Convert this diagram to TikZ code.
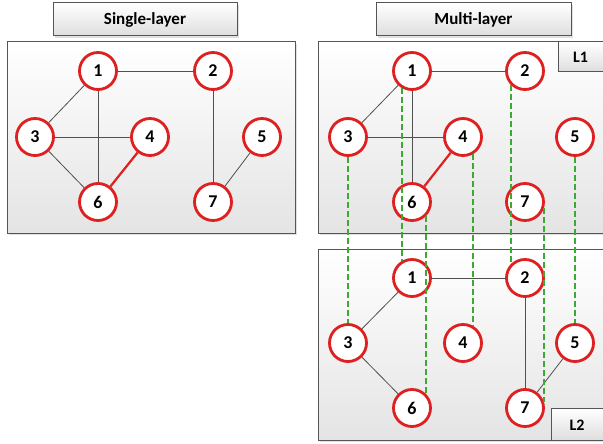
\documentclass[tikz,border=0pt]{standalone}
\usepackage{fontspec}
\setmainfont{Carlito}
\usetikzlibrary{calc}

\definecolor{nodered}{RGB}{222,32,32}
\definecolor{linkgray}{RGB}{80,80,80}
\definecolor{framegray}{RGB}{85,85,85}
\definecolor{panelgray}{RGB}{228,228,228}
\definecolor{titlegray}{RGB}{222,222,222}
\definecolor{dashgreen}{RGB}{60,170,50}

\begin{document}
\begin{tikzpicture}[x=1pt,y=-1pt,
  vertex/.style={circle, draw=nodered, line width=2.8pt, fill=white,
    minimum size=37pt, inner sep=0pt, font=\fontsize{18}{18}\selectfont\bfseries},
  link/.style={draw=linkgray, line width=0.8pt},
  hot/.style={draw=nodered, line width=2.2pt},
  cross/.style={draw=dashgreen, line width=1.5pt, dash pattern=on 6pt off 3pt},
  panel/.style={draw=framegray, line width=1pt, top color=white, bottom color=panelgray},
  shade/.style={fill=black, opacity=0.12, draw=none},
  title/.style={draw=framegray, line width=1pt, top color=white, bottom color=titlegray},
  titletext/.style={font=\fontsize{17}{17}\selectfont\bfseries},
  tag/.style={font=\fontsize{16}{16}\selectfont\bfseries},
]
\useasboundingbox (0,0) rectangle (603,444);
\clip (0,0) rectangle (603,444);

% --- titles ---
\fill[shade] (55,5) rectangle (239,38);
\path[title] (53,3) rectangle (237,36);
\node[titletext] (tsingle) at (145,19.5) {Single-layer};
\fill[shade] (378,5) rectangle (573,38);
\path[title] (376,3) rectangle (571,36);
\node[titletext] (tmulti) at (473.5,19.5) {Multi-layer};

% --- panels ---
\fill[shade] (9,44) rectangle (297,235);
\path[panel] (7,42) rectangle (295,233);
\fill[shade] (320,44) rectangle (622,235);
\path[panel] (318,42) rectangle (620,233);
\fill[shade] (320,251) rectangle (622,442);
\path[panel] (318,249) rectangle (620,440);

% layer tags
\path[title] (558,42) rectangle (620,72);
\node[tag] (l1) at (580.5,57.5) {L1};
\path[title] (551,408) rectangle (620,440);
\node[tag] (l2) at (577,425) {L2};

% --- single-layer graph ---
\node[vertex] (s1) at (98,71) {1};
\node[vertex] (s2) at (213,71) {2};
\node[vertex] (s3) at (35,137) {3};
\node[vertex] (s4) at (150,137) {4};
\node[vertex] (s5) at (262,137) {5};
\node[vertex] (s6) at (98,202) {6};
\node[vertex] (s7) at (213,202) {7};
\draw[link] (s1) -- (s2);
\draw[link] (s1) -- (s3);
\draw[link] (s1) -- (s6);
\draw[link] (s3) -- (s4);
\draw[link] (s3) -- (s6);
\draw[link] (s2) -- (s7);
\draw[link] (s5) -- (s7);
\draw[hot] (s4) -- (s6);

% --- layer L1 ---
\node[vertex] (a1) at (412,71) {1};
\node[vertex] (a2) at (525,71) {2};
\node[vertex] (a3) at (348,137) {3};
\node[vertex] (a4) at (463,137) {4};
\node[vertex] (a5) at (575,137) {5};
\node[vertex] (a6) at (412,202) {6};
\node[vertex] (a7) at (525,202) {7};
\draw[link] (a1) -- (a2);
\draw[link] (a1) -- (a3);
\draw[link] (a1) -- (a6);
\draw[link] (a3) -- (a4);
\draw[hot] (a4) -- (a6);

% --- layer L2 ---
\node[vertex] (b1) at (412,278) {1};
\node[vertex] (b2) at (525,278) {2};
\node[vertex] (b3) at (348,343) {3};
\node[vertex] (b4) at (463,343) {4};
\node[vertex] (b5) at (575,343) {5};
\node[vertex] (b6) at (412,408) {6};
\node[vertex] (b7) at (525,408) {7};
\draw[link] (b1) -- (b2);
\draw[link] (b1) -- (b3);
\draw[link] (b3) -- (b6);
\draw[link] (b2) -- (b7);
\draw[link] (b5) -- (b7);

% --- inter-layer couplings (vertical, from L1 copy down to L2 copy) ---
\draw[cross] (a3.south) -- (a3.south |- b3.north);
\draw[cross] (a1.239) -- (a1.239 |- b1.121);
\draw[cross] (a6.315) -- (a6.315 |- b6.45);
\draw[cross] (a4.300) -- (a4.300 |- b4.60);
\draw[cross] (a2.225) -- (a2.225 |- b2.135);
\draw[cross] (a7.343) -- (a7.343 |- b7.17);
\draw[cross] (a5.south) -- (a5.south |- b5.north);
\end{tikzpicture}
\end{document}
